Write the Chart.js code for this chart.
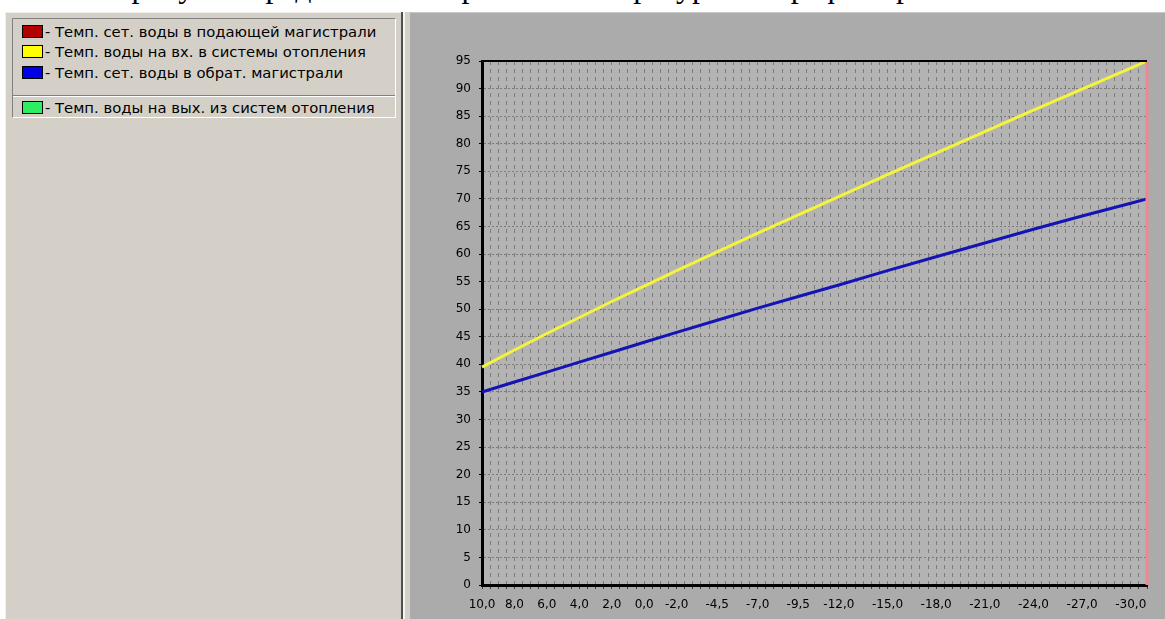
<!DOCTYPE html>
<html>
<head>
<meta charset="utf-8">
<script src="https://cdn.jsdelivr.net/npm/chart.js@4/dist/chart.umd.min.js"></script>
<style>
    body { margin: 0; width: 1165px; height: 619px; overflow: hidden; background: #fff; position: relative; font-family: "DejaVu Sans", sans-serif; }
    #doc { position: absolute; left: 8px; top: -30px; font: 32px "Liberation Serif", serif; line-height: 32px; white-space: nowrap; color: #000; }
    #left { position: absolute; left: 5px; top: 12px; width: 396px; height: 607px; background: #d4d0c8; border-top: 1px solid #f0eee8; border-left: 1px solid #f0eee8; box-sizing: border-box; }
    #sep1 { position: absolute; left: 401px; top: 12px; width: 2px; height: 607px; background: #505050; }
    #sep2 { position: absolute; left: 403px; top: 12px; width: 2px; height: 607px; background: #f4f4f4; }
    #sep3 { position: absolute; left: 405px; top: 12px; width: 5px; height: 607px; background: #d4d0c8; }
    #right { position: absolute; left: 410px; top: 12px; width: 755px; height: 607px; background: #ababab; border-top: 1px solid #c8c8c8; box-sizing: border-box; }
    #legend { position: absolute; left: 6px; top: 5px; width: 384px; height: 100px; border: 1px solid #808080; border-right-color: #fff; border-bottom-color: #fff; box-sizing: border-box; }
    .item { position: absolute; left: 9px; height: 18px; font-size: 14.8px; line-height: 18px; color: #000; white-space: nowrap; }
    .swatch { display: inline-block; width: 19px; height: 11px; border: 1px solid #000; vertical-align: -1px; margin-right: 2px; }
    #legsep { position: absolute; left: 0; top: 76px; width: 382px; height: 0; border-top: 1px solid #808080; border-bottom: 1px solid #fff; }
</style>
</head>
<body>
<div id="doc">Ниже на рисунке представлены кривые температурного графика работы тепловой сети</div>
<div id="left">
    <div id="legend"></div>
</div>
<div id="sep1"></div>
<div id="sep2"></div>
<div id="sep3"></div>
<div id="right">
    <canvas id="myChart" width="755" height="607"></canvas>
</div>

<script>
// outdoor air temperature (x) and water temperatures
const outdoorTemps = [10, 8, 6, 4, 2, 0, -2, -4.5, -7, -9.5, -12, -15, -18, -21, -24, -27, -30, -31]
const inletTemps = [39.5, 42.6, 45.6, 48.5, 51.4, 54.2, 57, 60.4, 63.8, 67.1, 70.4, 74.4, 78.3, 82.2, 86.1, 89.9, 93.7, 95]
const returnTemps = [35, 36.8, 38.6, 40.4, 42.2, 44, 45.8, 48, 50.2, 52.3, 54.4, 57, 59.5, 62, 64.5, 66.9, 69.2, 70]
// supply line only shows as the vertical red stroke at the right edge
const supplyOutdoor = [-31, -31]
const supplyTemps = [0, 95]
const outletTemps = []

const tickLabels = [10, 8, 6, 4, 2, 0, -2, -4.5, -7, -9.5, -12, -15, -18, -21, -24, -27, -30]
const xMin = -31
const xMax = 10
const yMin = 0
const yMax = 95
const yStep = 5

const seriesNames = [
    '- Темп. сет. воды в подающей магистрали',
    '- Темп. воды на вх. в системы отопления',
    '- Темп. сет. воды в обрат. магистрали',
    '- Темп. воды на вых. из систем отопления'
]
const seriesColors = ['#b00000', '#ffff00', '#0000e8', '#30ec60']

const legendElement = document.getElementById('legend')
const itemTops = [4, 24, 45, 80]

function buildLegend() {
    legendElement.innerHTML = ''
    seriesNames.forEach((name, i) => {
        legendElement.innerHTML += `
            <div class="item" style="top:${itemTops[i]}px">
                <span class="swatch" style="background:${seriesColors[i]}"></span>${name}
            </div>`
    })
    legendElement.innerHTML += '<div id="legsep"></div>'
}

function toPoints(xs, ys) {
    return xs.map((x, i) => ({ x: x, y: ys[i] }))
}

const plotFrame = {
    id: 'plotFrame',
    beforeDraw(chart) {
        const { ctx, chartArea: a } = chart
        ctx.save()
        ctx.fillStyle = '#b3b3b3'
        ctx.fillRect(a.left, a.top, a.right - a.left, a.bottom - a.top)
        ctx.restore()
    },
    afterDatasetsDraw(chart) {
        const { ctx, chartArea: a } = chart
        ctx.save()
        ctx.strokeStyle = '#000'
        ctx.lineWidth = 2
        ctx.beginPath()
        ctx.moveTo(a.left, a.top)
        ctx.lineTo(a.right, a.top)
        ctx.stroke()
        ctx.restore()
    }
}

let myChart = null

function createChart() {
    const ctx = document.getElementById('myChart').getContext('2d')

    myChart = new Chart(ctx, {
        type: 'line',
        data: {
            datasets: [
                { label: seriesNames[0], data: toPoints(supplyOutdoor, supplyTemps), borderColor: '#ee8890', borderWidth: 3, clip: 3 },
                { label: seriesNames[1], data: toPoints(outdoorTemps, inletTemps), borderColor: '#f4f43c', borderWidth: 3, clip: 3 },
                { label: seriesNames[2], data: toPoints(outdoorTemps, returnTemps), borderColor: '#1414b4', borderWidth: 3, clip: 3 },
                { label: seriesNames[3], data: toPoints(outdoorTemps, outletTemps), borderColor: seriesColors[3], borderWidth: 3, clip: 3 }
            ]
        },
        options: {
            responsive: false,
            animation: false,
            elements: { point: { radius: 0 }, line: { tension: 0 } },
            layout: { padding: { top: 48, right: 18, left: 0, bottom: 0 } },
            scales: {
                x: {
                    type: 'linear',
                    reverse: true,
                    min: xMin,
                    max: xMax,
                    afterBuildTicks: scale => {
                        scale.ticks = []
                        for (let v = xMin; v <= xMax; v += 0.5) scale.ticks.push({ value: v })
                    },
                    afterFit: scale => { scale.height = 35 },
                    ticks: {
                        autoSkip: false,
                        maxRotation: 0,
                        padding: 9,
                        color: '#000',
                        font: { family: 'DejaVu Sans', size: 12 },
                        callback: v => tickLabels.includes(v) ? v.toFixed(1).replace('.', ',') : ''
                    },
                    grid: { color: '#7c7c7c', lineWidth: 1, tickLength: 4, tickColor: '#404040' },
                    border: { color: '#000', width: 3, dash: [4, 4] }
                },
                y: {
                    min: yMin,
                    max: yMax,
                    afterFit: scale => { scale.width = 72 },
                    ticks: {
                        stepSize: yStep,
                        padding: 8,
                        color: '#000',
                        font: { family: 'DejaVu Sans', size: 12 }
                    },
                    grid: { color: '#7c7c7c', lineWidth: 1, tickLength: 3, tickColor: '#000' },
                    border: { color: '#000', width: 3, dash: [2, 2] }
                }
            },
            plugins: {
                legend: { display: false },
                tooltip: { enabled: false }
            }
        },
        plugins: [plotFrame]
    })
}

buildLegend()
createChart()
</script>
</body>
</html>
